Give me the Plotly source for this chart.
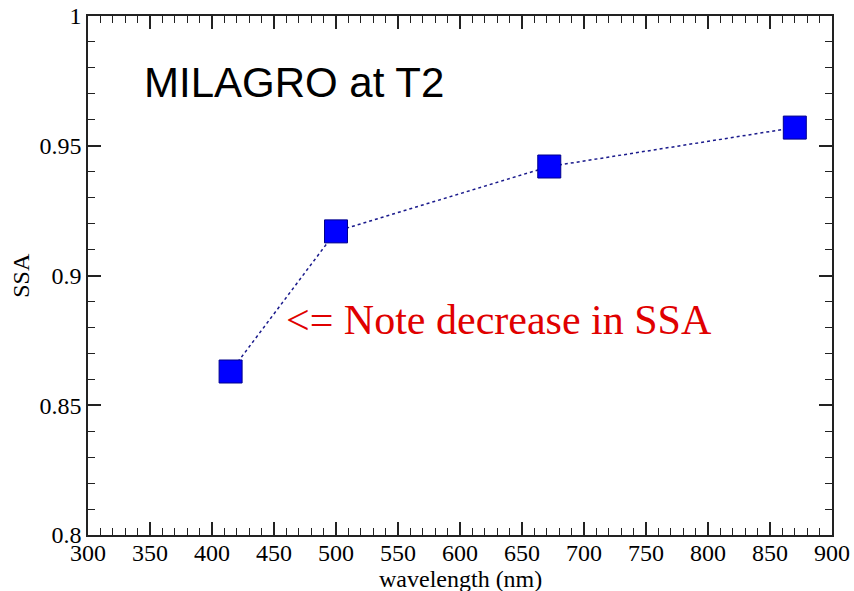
import plotly.graph_objects as go

wavelength = [415, 500, 672, 870]
ssa = [0.863, 0.917, 0.942, 0.957]

x_ticks = [300, 350, 400, 450, 500, 550, 600, 650, 700, 750, 800, 850, 900]
y_ticks = [0.8, 0.85, 0.9, 0.95, 1.0]
y_tick_labels = ["0.8", "0.85", "0.9", "0.95", "1"]

fig = go.Figure()
fig.add_trace(go.Scatter(
    x=wavelength, y=ssa, mode="lines+markers",
    line=dict(color="#1a1a8c", width=1.5, dash="dot"),
    marker=dict(symbol="square", size=23, color="#0000ff",
                line=dict(color="#00008b", width=1)),
    showlegend=False,
))

serif = "Liberation Serif, Times New Roman, serif"
axis_common = dict(
    showline=True, linecolor="#222", linewidth=1.5, mirror="ticks",
    ticks="inside", ticklen=13, tickwidth=1.5, tickcolor="#222",
    showgrid=False, zeroline=False, automargin=False,
    ticklabeloverflow="allow",
)

fig.update_xaxes(range=[300, 900], tickvals=x_ticks, ticklabelstandoff=-5,
                 tickfont=dict(family=serif, size=24, color="black"),
                 minor=dict(ticks="inside", ticklen=7, tickwidth=1.2, tickcolor="#222", dtick=10, showgrid=False),
                 **axis_common)
fig.update_yaxes(range=[0.8, 1.0], tickvals=y_ticks, ticktext=y_tick_labels,
                 tickfont=dict(family=serif, size=24, color="black"),
                 minor=dict(ticks="inside", ticklen=7, tickwidth=1.2, tickcolor="#222", dtick=0.01, showgrid=False),
                 **axis_common)

# axis titles
fig.add_annotation(text="wavelength (nm)", xref="paper", yref="paper", x=0.5, y=-0.085,
                   xanchor="center", yanchor="middle", showarrow=False,
                   font=dict(family=serif, size=24, color="black"))
fig.add_annotation(text="SSA", xref="paper", yref="paper", x=-0.091, y=0.5, textangle=-90,
                   xanchor="center", yanchor="middle", showarrow=False,
                   font=dict(family=serif, size=24, color="black"))

fig.add_annotation(text="MILAGRO at T2", xref="paper", yref="paper", x=0.072, y=0.871,
                   xanchor="left", yanchor="middle", showarrow=False,
                   font=dict(family="Liberation Sans, Arial, sans-serif", size=42, color="black"))
fig.add_annotation(text="<= Note decrease in SSA", xref="paper", yref="paper", x=0.264, y=0.414,
                   xanchor="left", yanchor="middle", showarrow=False,
                   font=dict(family=serif, size=42, color="#e00000"))

fig.update_layout(
    width=854, height=591,
    margin=dict(l=88, r=22, t=16, b=56),
    paper_bgcolor="white", plot_bgcolor="white",
)
# remove the default 8px page margin so the figure fills the window exactly
fig.write_html("out.html", config={"displayModeBar": False},
               post_script="document.body.style.margin='0';document.body.style.overflow='hidden';")
